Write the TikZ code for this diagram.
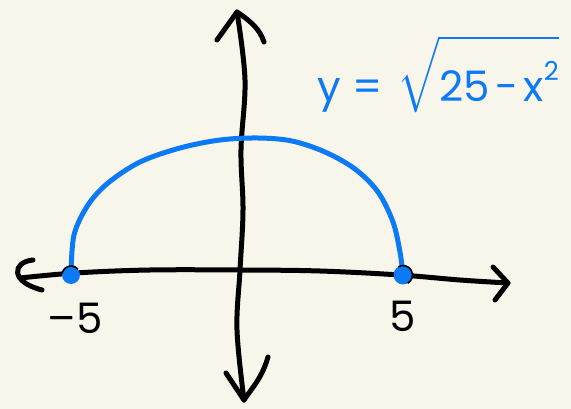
\documentclass[tikz,border=0pt]{standalone}
\usepackage{fontspec}
\usepackage{unicode-math}
\setmainfont{Poppins}
\setmathfont{Latin Modern Math}
\definecolor{bg}{RGB}{248,246,234}
\definecolor{penblue}{RGB}{12,122,245}
\tikzset{
  ink/.style={line width=5pt, line cap=round, line join=round, black},
  blueink/.style={line width=5pt, line cap=round, line join=round, penblue},
  handlabel/.style={inner sep=0pt, font=\fontsize{42}{48}\selectfont},
}
\begin{document}
\begin{tikzpicture}[x=1pt,y=-1pt]
\fill[bg] (0,0) rectangle (571,409);
\useasboundingbox (0,0) rectangle (571,409);
% axis end points
\coordinate (ytop) at (237,12);
\coordinate (ybot) at (244,400);
\coordinate (xleft) at (20,278);
\coordinate (xright) at (508,283);
% y axis
\draw[ink] plot[smooth, tension=0.6] coordinates {(237,12) (245,80) (241,150) (243,210) (240,270) (237,330) (244,400)};
\draw[ink] (217,40) -- (ytop) .. controls (252,22) and (260,30) .. (264,42);
\draw[ink] (226,373) -- (ybot);
\draw[ink] (268,357) .. controls (262,378) and (252,388) .. (ybot);
% x axis
\draw[ink] plot[smooth, tension=0.6] coordinates {(20,278) (75,273) (150,270) (240,270) (320,271) (400,275) (460,280) (508,283)};
\draw[ink] (33,260) .. controls (12,262) and (10,282) .. (42,290);
\draw[ink] (493,267) -- (xright) -- (495,300);
% semicircle
\coordinate (lp) at (71,275);
\coordinate (rp) at (403,275);
\draw[blueink] plot[smooth, tension=0.55] coordinates {(71,275) (74,235) (88,205) (108,183) (140,162) (180,148) (220,140) (258,138) (292,141) (325,152) (355,169) (378,192) (393,222) (400,252) (403,275)};
% dots
\fill[penblue] (lp) circle (9);
\draw[black, line width=1.6pt] ([shift={(-40:9)}]lp) arc (-40:-170:9);
\fill[penblue] (rp) circle (9.5);
\draw[black, line width=1.6pt] ([shift={(60:9.5)}]rp) arc (60:-120:9.5);
% labels
\node[handlabel] (lm5) at (75,318) {–5};
\node[handlabel] (l5) at (403,316) {5};
\node[handlabel, text=penblue, anchor=base west] (eq) at (317,102)
  {y\hspace{12pt}=\hspace{14pt}$\sqrt{\mbox{\rule{0pt}{1.2em}25\hspace{6pt}-\hspace{5pt}x\raisebox{0.5em}{\fontsize{26}{30}\selectfont 2}}}$};
\end{tikzpicture}
\end{document}
